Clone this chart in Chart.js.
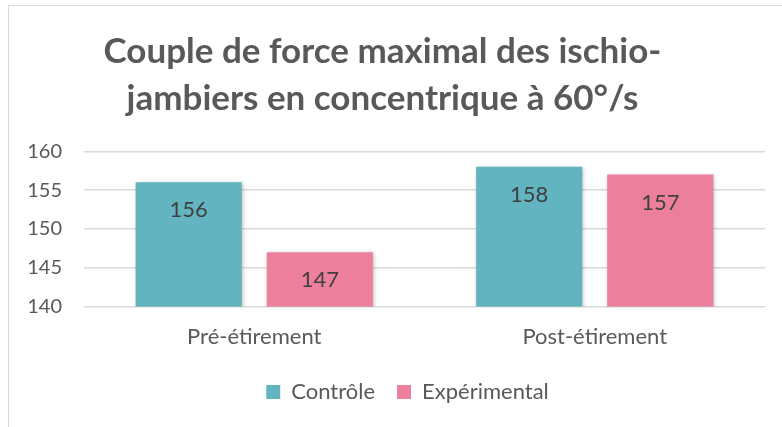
<!DOCTYPE html>
<html>
<head>
<meta charset="utf-8">
<script src="https://cdn.jsdelivr.net/npm/chart.js@4/dist/chart.umd.min.js"></script>
<style>
    html, body { margin: 0; padding: 0; background: #fff; }
    #wrap { position: relative; width: 782px; height: 427px; overflow: hidden; }
    #frame { position: absolute; left: 8px; top: 5px; width: 800px; height: 440px; border: 1.5px solid #d9d9d9; box-sizing: border-box; }
    #chart { position: absolute; left: 0; top: 0; }
</style>
</head>
<body>
<div id="wrap">
    <div id="frame"></div>
    <canvas id="chart" width="782" height="427"></canvas>
</div>
<script>
// Data
const categories = ['Pré-étirement', 'Post-étirement'];
const controle = [156, 158];
const experimental = [147, 157];
const yTicks = [140, 145, 150, 155, 160];

const FONT = 'Lato, "Open Sans", sans-serif';

// Draw values inside the top of each bar
const valueLabels = {
    id: 'valueLabels',
    afterDatasetsDraw(chart) {
        const ctx = chart.ctx;
        ctx.save();
        ctx.font = '22px ' + FONT;
        ctx.fillStyle = '#404040';
        ctx.textAlign = 'center';
        ctx.textBaseline = 'middle';
        chart.data.datasets.forEach((ds, i) => {
            chart.getDatasetMeta(i).data.forEach((bar, j) => {
                ctx.fillText(ds.data[j], bar.x, bar.y + 28);
            });
        });
        ctx.restore();
    }
};

// Soft shadow under bars
const barShadow = {
    id: 'barShadow',
    beforeDatasetsDraw(chart) {
        const ctx = chart.ctx;
        ctx.save();
        ctx.shadowColor = 'rgba(0,0,0,0.25)';
        ctx.shadowBlur = 4;
        ctx.shadowOffsetX = 1;
        ctx.shadowOffsetY = 1;
    },
    afterDatasetsDraw(chart) {
        chart.ctx.restore();
    }
};

// Legend sits a bit right of centre in the original
const legendShift = {
    id: 'legendShift',
    afterLayout(chart) {
        if (chart.legend) {
            chart.legend.left += 25;
            chart.legend.right += 25;
        }
    }
};

const ctx = document.getElementById('chart').getContext('2d');
new Chart(ctx, {
    type: 'bar',
    data: {
        labels: categories,
        datasets: [
            {
                label: 'Contrôle',
                data: controle,
                backgroundColor: '#62b5c0',
                barPercentage: 0.81,
                categoryPercentage: 0.77
            },
            {
                label: 'Expérimental',
                data: experimental,
                backgroundColor: '#ec7f9b',
                barPercentage: 0.81,
                categoryPercentage: 0.77
            }
        ]
    },
    options: {
        responsive: false,
        animation: false,
        layout: {
            padding: { left: 0, right: 17, top: 19, bottom: 14 }
        },
        scales: {
            y: {
                min: 140,
                max: 160,
                afterBuildTicks: axis => {
                    axis.ticks = yTicks.map(v => ({ value: v }));
                },
                afterFit: axis => { axis.width = 84; },
                grid: { color: '#d9d9d9', lineWidth: 1.5, drawTicks: false },
                border: { display: false },
                ticks: {
                    color: '#595959',
                    padding: 22,
                    font: { size: 20, family: FONT }
                }
            },
            x: {
                grid: { display: false },
                border: { display: false },
                ticks: {
                    color: '#595959',
                    padding: 9,
                    font: { size: 22, family: FONT }
                }
            }
        },
        plugins: {
            title: {
                display: true,
                text: ['Couple de force maximal des ischio-', 'jambiers en concentrique à 60°/s'],
                color: '#595959',
                font: { size: 35, weight: 'bold', family: FONT, lineHeight: 1.34 },
                padding: { top: 9, bottom: 29.5 }
            },
            legend: {
                position: 'bottom',
                labels: {
                    color: '#595959',
                    boxWidth: 14,
                    boxHeight: 14,
                    padding: 22,
                    font: { size: 22, family: FONT }
                }
            },
            tooltip: { enabled: false }
        }
    },
    plugins: [barShadow, valueLabels, legendShift]
});
</script>
</body>
</html>
